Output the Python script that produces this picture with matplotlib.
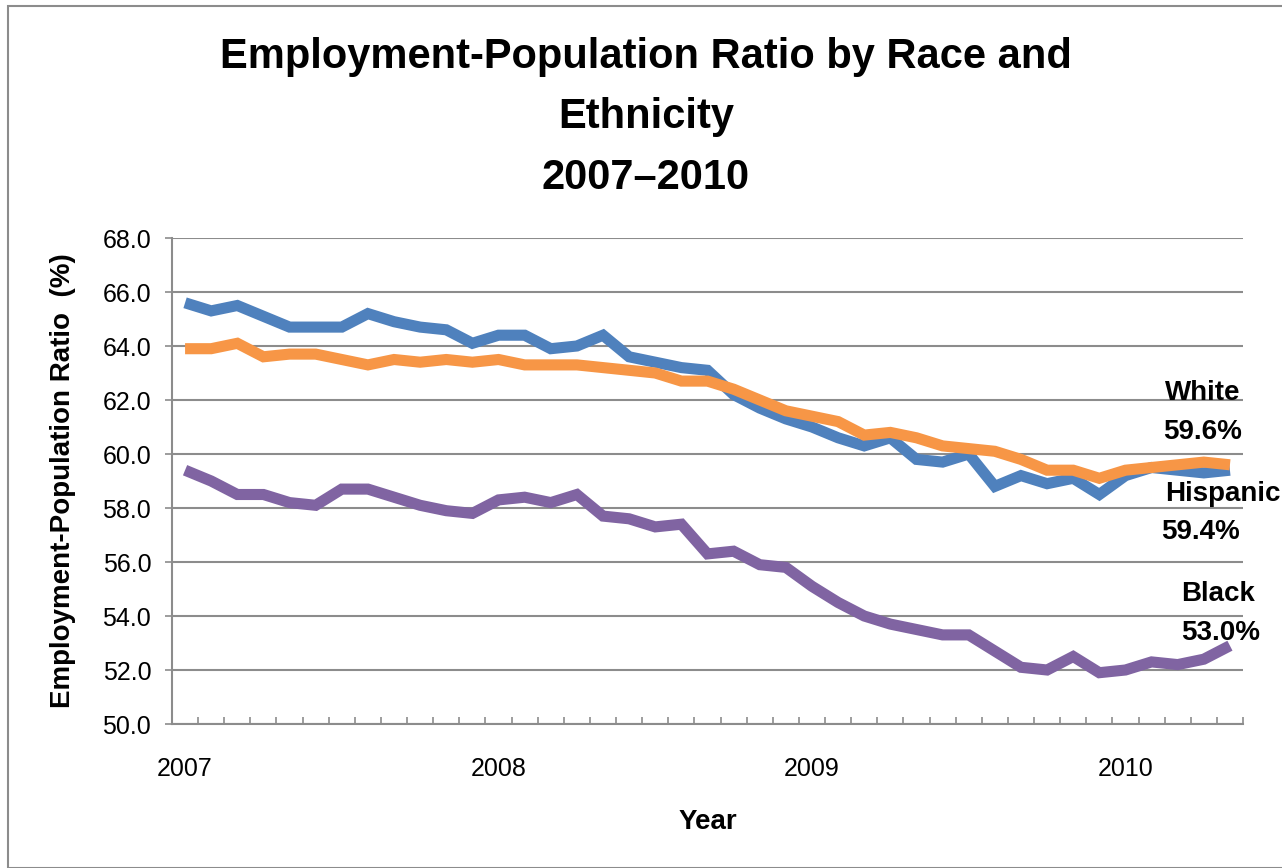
import matplotlib
matplotlib.use("Agg")
import matplotlib.pyplot as plt
from matplotlib.patches import Rectangle
from matplotlib import font_manager as fm

names = {f.name for f in fm.fontManager.ttflist}
NARROW = 'Liberation Sans Narrow' if 'Liberation Sans Narrow' in names else 'Liberation Sans'
REG = 'Liberation Sans'

years = ['2007', '2008', '2009', '2010']
year_pos = [0, 12, 24, 36]

hispanic = [65.6, 65.3, 65.5, 65.1, 64.7, 64.7, 64.7, 65.2, 64.9, 64.7, 64.6, 64.1,
            64.4, 64.4, 63.9, 64.0, 64.4, 63.6, 63.4, 63.2, 63.1, 62.2, 61.7, 61.3,
            61.0, 60.6, 60.3, 60.6, 59.8, 59.7, 60.0, 58.8, 59.2, 58.9, 59.1, 58.5,
            59.2, 59.5, 59.4, 59.3, 59.4]
white = [63.9, 63.9, 64.1, 63.6, 63.7, 63.7, 63.5, 63.3, 63.5, 63.4, 63.5, 63.4,
         63.5, 63.3, 63.3, 63.3, 63.2, 63.1, 63.0, 62.7, 62.7, 62.4, 62.0, 61.6,
         61.4, 61.2, 60.7, 60.8, 60.6, 60.3, 60.2, 60.1, 59.8, 59.4, 59.4, 59.1,
         59.4, 59.5, 59.6, 59.7, 59.6]
black = [59.4, 59.0, 58.5, 58.5, 58.2, 58.1, 58.7, 58.7, 58.4, 58.1, 57.9, 57.8,
         58.3, 58.4, 58.2, 58.5, 57.7, 57.6, 57.3, 57.4, 56.3, 56.4, 55.9, 55.8,
         55.1, 54.5, 54.0, 53.7, 53.5, 53.3, 53.3, 52.7, 52.1, 52.0, 52.5, 51.9,
         52.0, 52.3, 52.2, 52.4, 52.9]
yticks = [50, 52, 54, 56, 58, 60, 62, 64, 66, 68]

W, H = 1282, 868
fig = plt.figure(figsize=(W / 100, H / 100), dpi=100)
fig.patches.append(Rectangle((8 / W, 0), 2, 1 - 6 / H, transform=fig.transFigure,
                             fill=False, edgecolor='#8c8c8c', linewidth=1.5))

L, R, T, B = 172, 1243, 238, 724
ax = fig.add_axes([L / W, 1 - B / H, (R - L) / W, (B - T) / H])

x = list(range(len(white)))
kw = dict(lw=8, solid_joinstyle='miter', solid_capstyle='butt')
ax.plot(x, black, color='#8064A2', zorder=3, **kw)
ax.plot(x, hispanic, color='#4F81BD', zorder=3, **kw)
ax.plot(x, white, color='#F79646', zorder=4, **kw)

ax.set_xlim(-0.5, len(white) - 0.5)
ax.set_ylim(50, 68)
ax.set_yticks(yticks)
ax.set_yticklabels([f'{v:.1f}' for v in yticks], fontsize=18, family=REG)
ax.grid(axis='y', color='#8c8c8c', lw=1.5, zorder=1)
ax.set_axisbelow(True)

ax.set_xticks(year_pos)
ax.set_xticklabels(years, fontsize=18, family=REG)
ax.set_xticks([i - 0.5 for i in range(len(white) + 1)], minor=True)
ax.tick_params(axis='x', which='major', length=0, pad=24)
ax.tick_params(axis='x', which='minor', direction='in', length=5, width=1.2, color='#8c8c8c')
ax.tick_params(axis='y', direction='out', length=5, width=1.2, color='#8c8c8c', pad=10)

for s in ['top', 'right']:
    ax.spines[s].set_visible(False)
for s in ['left', 'bottom']:
    ax.spines[s].set_color('#8c8c8c')
    ax.spines[s].set_linewidth(1.5)

ax.set_xlabel('Year', fontsize=20, fontweight='bold', family=NARROW)
ax.xaxis.set_label_coords(0.5, -(822 - B) / (B - T))
ax.xaxis.label.set_va('center')
ax.set_ylabel('Employment-Population Ratio  (%)', fontsize=20, fontweight='bold', family=NARROW)
ax.yaxis.set_label_coords(-(L - 63) / (R - L), 0.5)
ax.yaxis.label.set_va('center')

tk = dict(ha='center', va='center', fontsize=30, fontweight='bold', family=NARROW)
fig.text(646 / W, 1 - 57 / H, 'Employment-Population Ratio by Race and', **tk)
fig.text(646 / W, 1 - 117 / H, 'Ethnicity', **tk)
fig.text(646 / W, 1 - 178 / H, '2007\u20132010', **tk)

lab = dict(ha='right', va='center', fontsize=20, fontweight='bold', family=NARROW)
fig.text(1240 / W, 1 - 393 / H, 'White', **lab)
fig.text(1242 / W, 1 - 432 / H, '59.6%', **lab)
fig.text(1281 / W, 1 - 494 / H, 'Hispanic', **lab)
fig.text(1240 / W, 1 - 532 / H, '59.4%', **lab)
fig.text(1255 / W, 1 - 594 / H, 'Black', **lab)
fig.text(1260 / W, 1 - 633 / H, '53.0%', **lab)

fig.savefig('out.png', dpi=100)
